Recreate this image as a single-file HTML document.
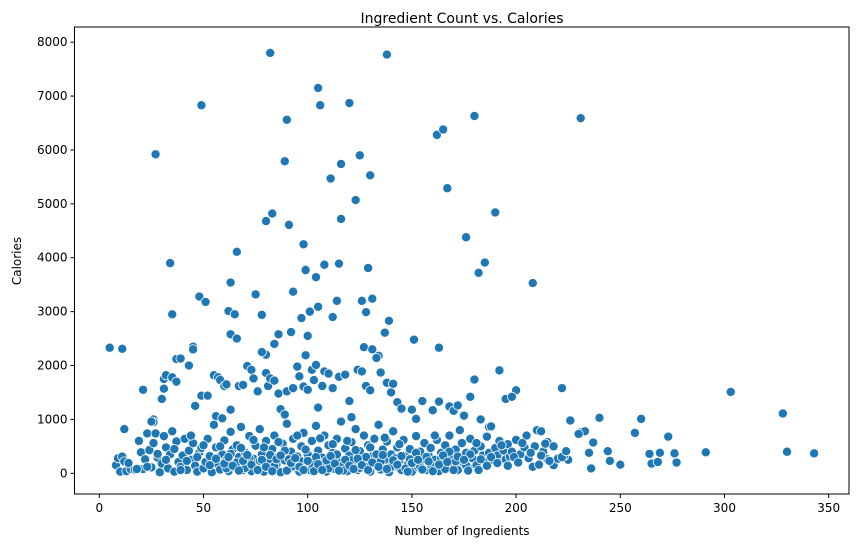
<!DOCTYPE html>
<html><head><meta charset="utf-8"><style>
body{margin:0;background:#fff;}
svg{display:block;font-family:"DejaVu Sans","Liberation Sans",sans-serif;}
</style></head><body>
<svg id="chart" width="859" height="547">
<text x="462" y="23" font-size="14" text-anchor="middle" fill="#000">Ingredient Count vs. Calories</text>
<text x="462" y="535" font-size="12" text-anchor="middle">Number of Ingredients</text>
<text transform="translate(21,261) rotate(-90)" font-size="12" text-anchor="middle">Calories</text>
<g id="points"></g>
<g id="axes"></g>
</svg>
<script>
const xTicks=[0,50,100,150,200,250,300,350];
const yTicks=[0,1000,2000,3000,4000,5000,6000,7000,8000];
const ingredients=[5,11,27,34,35,49,45,45,48,51,37,39,43,62,63,63,66,65,66,75,78,80,83,82,80,84,86,89,90,91,93,92,97,98,99,99,101,100,105,106,104,105,108,111,112,114,115,116,116,120,123,125,126,128,129,130,131,127,131,138,137,139,134,151,162,163,165,167,176,180,182,185,190,208,231,192,180,200,222,303,328,330,343,291,276,277,273,265,264,269,268,257,260,250,245,244,240,237,236,235,231,233,230,225,223,226,218,220,
21,26,26,30,31,32,31,35,37,46,49,52,55,57,58,60,61,56,59,63,67,69,71,73,74,76,78,80,81,82,84,86,87,89,90,93,95,96,98,99,100,102,103,104,105,107,108,110,112,115,118,120,121,124,126,128,130,133,135,138,140,141,143,145,150,152,155,160,163,168,170,172,175,178,183,187,195,198,205,210,212,215,
8,9,10,11,12,13,12,15,17,19,20,21,22,23,24,25,26,27,28,29,30,31,32,33,34,35,36,37,38,39,40,41,42,43,44,45,46,47,48,49,50,51,52,53,54,55,56,57,58,59,60,61,62,63,64,65,66,67,68,69,70,71,72,73,74,75,76,77,78,79,80,81,82,83,84,85,86,87,88,89,90,91,92,93,94,95,96,97,98,99,100,101,102,103,104,105,106,107,108,109,110,111,112,113,114,115,116,117,118,119,120,121,122,123,124,125,126,127,128,129,130,131,132,133,134,135,136,137,138,139,140,141,142,143,144,145,146,147,148,149,150,151,152,153,154,155,156,157,158,159,160,161,162,163,164,165,166,167,168,169,170,171,172,173,174,175,176,177,178,179,180,181,182,183,184,185,186,187,188,189,190,191,192,194,195,196,197,198,200,202,204,206,208,209,211,213,215,
14,18,23,25,28,32,36,39,42,44,47,50,53,56,58,61,63,66,68,70,72,74,77,79,82,84,86,89,91,93,95,97,99,102,104,106,108,110,112,114,117,119,121,123,125,128,130,133,135,137,140,142,144,147,149,152,154,157,159,161,164,166,168,171,173,176,178,181,183,186,188,191,193,196,199,201,203,207,212,214,216,218,222,224,
60,62,64,67,69,71,73,76,78,80,83,85,87,90,92,94,96,98,100,103,105,107,109,111,113,115,118,120,122,124,126,129,131,134,136,138,141,143,145,148,150,153,155,158,160,163,165,167,170,172,175,177];
const calories=[2330,2310,5920,3900,2950,6830,2350,2300,3280,3180,2120,2130,2000,3010,3540,2580,4110,2950,2500,3320,2940,4680,4820,7800,2200,2400,2580,5790,6560,4610,3370,2620,2880,4250,3790,3770,3000,2550,7150,6830,3640,3090,3870,5470,2900,3200,3890,5740,4720,6870,5070,5900,3200,2990,3810,5530,3240,2340,2300,7770,2610,2830,2180,2480,6280,2330,6380,5290,4380,6630,3720,3910,4840,3530,6590,1910,1740,1540,1580,1510,1110,400,370,390,370,200,680,180,360,380,210,750,1010,160,230,410,1030,570,90,380,760,780,730,250,320,980,150,270,
1550,1000,950,1380,1750,1820,1570,1780,1700,1250,1440,1440,1820,1780,1730,1620,1650,1060,1020,1180,1620,1640,1990,1920,1760,1520,2250,1860,1620,1760,1720,1480,1190,1090,1520,1580,1980,1800,1610,2190,1550,1920,1730,2010,1220,1620,1890,1850,1580,1790,1830,1340,1040,1920,1890,1620,1540,2140,1870,1680,1500,1660,1320,1200,1180,1010,1340,1170,1330,1240,1160,1260,1070,1420,1000,860,1380,1420,700,800,780,580,
150,280,30,310,220,40,820,80,70,600,390,80,260,740,430,110,560,740,290,20,180,690,480,90,350,780,30,590,210,120,330,640,60,420,250,560,140,30,380,470,90,210,640,320,20,900,480,170,70,350,610,250,40,770,440,110,520,300,860,60,380,190,690,40,270,510,140,820,350,30,600,230,90,450,700,160,310,20,550,240,920,80,400,640,180,310,30,500,750,140,350,60,600,250,880,420,110,290,700,30,520,200,380,80,640,270,960,150,460,40,330,580,190,820,60,410,260,700,120,520,30,310,640,180,900,70,440,250,590,20,350,780,130,480,240,60,620,320,160,450,30,280,690,110,400,200,560,60,330,470,140,250,620,40,380,220,520,90,700,300,160,440,60,260,560,180,380,100,640,280,420,150,60,500,330,220,680,380,870,250,470,330,600,420,260,540,310,400,620,350,480,280,120,500,160,400,260,
190,80,120,960,360,250,450,60,230,700,300,520,150,270,500,90,360,200,470,100,280,620,230,480,340,130,580,420,260,130,700,220,440,170,300,650,200,90,540,350,50,600,240,430,100,300,480,350,220,660,120,280,540,90,260,380,120,300,160,700,280,80,400,220,800,150,350,560,260,140,300,190,520,140,300,200,560,380,330,550,230,500,300,410,
180,300,140,50,230,340,160,60,250,120,40,260,330,50,190,280,120,60,230,40,170,60,240,320,180,50,250,140,80,270,150,60,200,120,340,80,240,160,320,30,190,250,70,220,40,160,330,210,60,310,250,50];

const svg=document.getElementById('chart');
const NS='http://www.w3.org/2000/svg';
const L=74.5,R=849,T=27,B=494;
function xs(v){return 99.3+v*2.084;}
function ys(v){return 473.3-v*0.05389;}
const pg=document.getElementById('points');
for(let i=0;i<ingredients.length;i++){
  const c=document.createElementNS(NS,'circle');
  c.setAttribute('cx',xs(ingredients[i]));c.setAttribute('cy',ys(calories[i]));
  c.setAttribute('r',4.6);c.setAttribute('fill','#1f77b4');c.setAttribute('stroke','#fff');c.setAttribute('stroke-width','0.8');
  
  
  pg.appendChild(c);
}
const ax=document.getElementById('axes');
const fr=document.createElementNS(NS,'rect');
fr.setAttribute('x',L);fr.setAttribute('y',T);fr.setAttribute('width',R-L);fr.setAttribute('height',B-T);
fr.setAttribute('fill','none');fr.setAttribute('stroke','#000');fr.setAttribute('stroke-width','1');


ax.appendChild(fr);
xTicks.forEach(t=>{
  const x=xs(t);
  const l=document.createElementNS(NS,'line');
  l.setAttribute('x1',x);l.setAttribute('x2',x);l.setAttribute('y1',B);l.setAttribute('y2',B+4);l.setAttribute('stroke','#000');
  
  
  ax.appendChild(l);
  const tx=document.createElementNS(NS,'text');
  tx.setAttribute('x',x);tx.setAttribute('y',B+18);tx.setAttribute('font-size','12');tx.setAttribute('text-anchor','middle');
  tx.textContent=t;
  
  
  ax.appendChild(tx);
});
yTicks.forEach(t=>{
  const y=ys(t);
  const l=document.createElementNS(NS,'line');
  l.setAttribute('x1',L-4);l.setAttribute('x2',L);l.setAttribute('y1',y);l.setAttribute('y2',y);l.setAttribute('stroke','#000');
  
  
  ax.appendChild(l);
  const tx=document.createElementNS(NS,'text');
  tx.setAttribute('x',L-7);tx.setAttribute('y',y+4);tx.setAttribute('font-size','12');tx.setAttribute('text-anchor','end');
  tx.textContent=t;
  
  
  ax.appendChild(tx);
});
</script>
</body></html>
